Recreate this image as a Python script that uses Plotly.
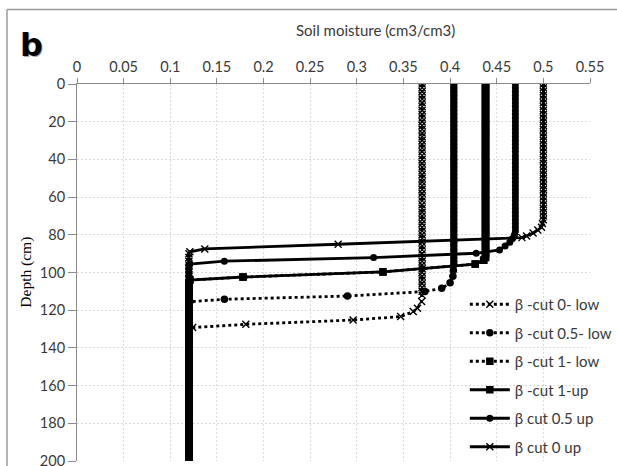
import plotly.graph_objects as go

# ---------------- data ----------------
x_tick_vals = [0, 0.05, 0.1, 0.15, 0.2, 0.25, 0.3, 0.35, 0.4, 0.45, 0.5, 0.55]
x_tick_text = ["0", "0.05", "0.1", "0.15", "0.2", "0.25", "0.3", "0.35", "0.4", "0.45", "0.5", "0.55"]
y_tick_vals = [0, 20, 40, 60, 80, 100, 120, 140, 160, 180, 200]

series_names = ["β -cut 0- low", "β -cut 0.5- low", "β -cut 1- low",
                "β -cut 1-up", "β cut 0.5 up", "β cut 0 up"]

# β-cut 0 low (dotted, x markers)
depth_cut0_low = [0, 2, 4, 6, 8, 10, 12, 14, 16, 18, 20, 22, 24, 26, 28, 30, 32, 34, 36, 38,
                  40, 42, 44, 46, 48, 50, 52, 54, 56, 58, 60, 62, 64, 66, 68, 70, 72, 74, 76, 78,
                  80, 82, 84, 86, 88, 90, 92, 94, 96, 98, 100, 102, 104, 106, 108, 110, 112,
                  115.4, 119, 120.7, 123.4, 125.2, 127.5, 129.2,
                  130, 132, 134, 136, 138, 140, 142, 144, 146, 148, 150, 152, 154, 156, 158, 160,
                  162, 164, 166, 168, 170, 172, 174, 176, 178, 180, 182, 184, 186, 188, 190, 192,
                  194, 196, 198, 200]
theta_cut0_low = [0.37, 0.37, 0.37, 0.37, 0.37, 0.37, 0.37, 0.37, 0.37, 0.37, 0.37, 0.37, 0.37, 0.37,
                  0.37, 0.37, 0.37, 0.37, 0.37, 0.37, 0.37, 0.37, 0.37, 0.37, 0.37, 0.37, 0.37, 0.37,
                  0.37, 0.37, 0.37, 0.37, 0.37, 0.37, 0.37, 0.37, 0.37, 0.37, 0.37, 0.37, 0.37, 0.37,
                  0.37, 0.37, 0.37, 0.37, 0.37, 0.37, 0.37, 0.37, 0.37, 0.37, 0.37, 0.37, 0.37, 0.37,
                  0.37,
                  0.3695, 0.365, 0.3605, 0.347, 0.296, 0.181, 0.124,
                  0.12, 0.12, 0.12, 0.12, 0.12, 0.12, 0.12, 0.12, 0.12, 0.12, 0.12, 0.12, 0.12, 0.12,
                  0.12, 0.12, 0.12, 0.12, 0.12, 0.12, 0.12, 0.12, 0.12, 0.12, 0.12, 0.12, 0.12, 0.12,
                  0.12, 0.12, 0.12, 0.12, 0.12, 0.12, 0.12, 0.12]

# β-cut 0.5 low (dotted, circles)
depth_cut05_low = [0, 2, 4, 6, 8, 10, 12, 14, 16, 18, 20, 22, 24, 26, 28, 30, 32, 34, 36, 38,
                   40, 42, 44, 46, 48, 50, 52, 54, 56, 58, 60, 62, 64, 66, 68, 70, 72, 74, 76, 78,
                   80, 82, 84, 86, 88, 90, 92, 94, 96,
                   99, 102, 105.5, 108.4, 110.1, 112.5, 114.2, 115.5,
                   118, 120, 122, 124, 126, 128, 130, 132, 134, 136, 138, 140, 142, 144, 146, 148,
                   150, 152, 154, 156, 158, 160, 162, 164, 166, 168, 170, 172, 174, 176, 178, 180,
                   182, 184, 186, 188, 190, 192, 194, 196, 198, 200]
theta_cut05_low = [0.404, 0.404, 0.404, 0.404, 0.404, 0.404, 0.404, 0.404, 0.404, 0.404, 0.404, 0.404,
                   0.404, 0.404, 0.404, 0.404, 0.404, 0.404, 0.404, 0.404, 0.404, 0.404, 0.404, 0.404,
                   0.404, 0.404, 0.404, 0.404, 0.404, 0.404, 0.404, 0.404, 0.404, 0.404, 0.404, 0.404,
                   0.404, 0.404, 0.404, 0.404, 0.404, 0.404, 0.404, 0.404, 0.404, 0.404, 0.404, 0.404,
                   0.404,
                   0.4035, 0.403, 0.4, 0.391, 0.373, 0.29, 0.158, 0.121,
                   0.12, 0.12, 0.12, 0.12, 0.12, 0.12, 0.12, 0.12, 0.12, 0.12, 0.12, 0.12, 0.12, 0.12,
                   0.12, 0.12, 0.12, 0.12, 0.12, 0.12, 0.12, 0.12, 0.12, 0.12, 0.12, 0.12, 0.12, 0.12,
                   0.12, 0.12, 0.12, 0.12, 0.12, 0.12, 0.12, 0.12, 0.12, 0.12, 0.12, 0.12, 0.12, 0.12]

# β-cut 1 (low and up bounds coincide; squares)
depth_cut1 = [0, 2, 4, 6, 8, 10, 12, 14, 16, 18, 20, 22, 24, 26, 28, 30, 32, 34, 36, 38,
              40, 42, 44, 46, 48, 50, 52, 54, 56, 58, 60, 62, 64, 66, 68, 70, 72, 74, 76, 78,
              80, 82, 84, 86, 88, 90, 92,
              93.5, 95.5, 99.7, 102.4, 104,
              106, 108, 110, 112, 114, 116, 118, 120, 122, 124, 126, 128, 130, 132, 134, 136,
              138, 140, 142, 144, 146, 148, 150, 152, 154, 156, 158, 160, 162, 164, 166, 168,
              170, 172, 174, 176, 178, 180, 182, 184, 186, 188, 190, 192, 194, 196, 198, 200]
theta_cut1 = [0.438, 0.438, 0.438, 0.438, 0.438, 0.438, 0.438, 0.438, 0.438, 0.438, 0.438, 0.438,
              0.438, 0.438, 0.438, 0.438, 0.438, 0.438, 0.438, 0.438, 0.438, 0.438, 0.438, 0.438,
              0.438, 0.438, 0.438, 0.438, 0.438, 0.438, 0.438, 0.438, 0.438, 0.438, 0.438, 0.438,
              0.438, 0.438, 0.438, 0.438, 0.438, 0.438, 0.438, 0.438, 0.438, 0.438, 0.438,
              0.436, 0.427, 0.328, 0.178, 0.121,
              0.12, 0.12, 0.12, 0.12, 0.12, 0.12, 0.12, 0.12, 0.12, 0.12, 0.12, 0.12, 0.12, 0.12,
              0.12, 0.12, 0.12, 0.12, 0.12, 0.12, 0.12, 0.12, 0.12, 0.12, 0.12, 0.12, 0.12, 0.12,
              0.12, 0.12, 0.12, 0.12, 0.12, 0.12, 0.12, 0.12, 0.12, 0.12, 0.12, 0.12, 0.12, 0.12,
              0.12, 0.12, 0.12, 0.12, 0.12, 0.12]

# β-cut 0.5 up (solid, circles)
depth_cut05_up = [0, 2, 4, 6, 8, 10, 12, 14, 16, 18, 20, 22, 24, 26, 28, 30, 32, 34, 36, 38,
                  40, 42, 44, 46, 48, 50, 52, 54, 56, 58, 60, 62, 64, 66, 68, 70, 72, 74, 76, 78,
                  80, 82, 84, 86, 88, 89.8, 92.1, 94, 95.5,
                  96, 98, 100, 102, 104, 106, 108, 110, 112, 114, 116, 118, 120, 122, 124, 126,
                  128, 130, 132, 134, 136, 138, 140, 142, 144, 146, 148, 150, 152, 154, 156, 158,
                  160, 162, 164, 166, 168, 170, 172, 174, 176, 178, 180, 182, 184, 186, 188, 190,
                  192, 194, 196, 198, 200]
theta_cut05_up = [0.47, 0.47, 0.47, 0.47, 0.47, 0.47, 0.47, 0.47, 0.47, 0.47, 0.47, 0.47, 0.47, 0.47,
                  0.47, 0.47, 0.47, 0.47, 0.47, 0.47, 0.47, 0.47, 0.47, 0.47, 0.47, 0.47, 0.47, 0.47,
                  0.47, 0.47, 0.47, 0.47, 0.47, 0.47, 0.47, 0.47, 0.47, 0.47, 0.47, 0.47,
                  0.469, 0.467, 0.464, 0.459, 0.453, 0.428, 0.318, 0.158, 0.121,
                  0.12, 0.12, 0.12, 0.12, 0.12, 0.12, 0.12, 0.12, 0.12, 0.12, 0.12, 0.12, 0.12, 0.12,
                  0.12, 0.12, 0.12, 0.12, 0.12, 0.12, 0.12, 0.12, 0.12, 0.12, 0.12, 0.12, 0.12, 0.12,
                  0.12, 0.12, 0.12, 0.12, 0.12, 0.12, 0.12, 0.12, 0.12, 0.12, 0.12, 0.12, 0.12, 0.12,
                  0.12, 0.12, 0.12, 0.12, 0.12, 0.12, 0.12, 0.12, 0.12, 0.12, 0.12]

# β-cut 0 up (solid, x markers)
depth_cut0_up = [0, 2, 4, 6, 8, 10, 12, 14, 16, 18, 20, 22, 24, 26, 28, 30, 32, 34, 36, 38,
                 40, 42, 44, 46, 48, 50, 52, 54, 56, 58, 60, 62, 64, 66, 68, 70, 72,
                 74, 76, 77.5, 79, 80.6, 81.5, 85, 87.5, 89,
                 90, 92, 94, 96, 98, 100, 102, 104, 106, 108, 110, 112, 114, 116, 118, 120,
                 122, 124, 126, 128, 130, 132, 134, 136, 138, 140, 142, 144, 146, 148, 150, 152,
                 154, 156, 158, 160, 162, 164, 166, 168, 170, 172, 174, 176, 178, 180, 182, 184,
                 186, 188, 190, 192, 194, 196, 198, 200]
theta_cut0_up = [0.5, 0.5, 0.5, 0.5, 0.5, 0.5, 0.5, 0.5, 0.5, 0.5, 0.5, 0.5, 0.5, 0.5, 0.5, 0.5,
                 0.5, 0.5, 0.5, 0.5, 0.5, 0.5, 0.5, 0.5, 0.5, 0.5, 0.5, 0.5, 0.5, 0.5, 0.5, 0.5,
                 0.5, 0.5, 0.5, 0.5, 0.5,
                 0.499, 0.498, 0.494, 0.489, 0.482, 0.477, 0.28, 0.137, 0.121,
                 0.12, 0.12, 0.12, 0.12, 0.12, 0.12, 0.12, 0.12, 0.12, 0.12, 0.12, 0.12, 0.12, 0.12,
                 0.12, 0.12, 0.12, 0.12, 0.12, 0.12, 0.12, 0.12, 0.12, 0.12, 0.12, 0.12, 0.12, 0.12,
                 0.12, 0.12, 0.12, 0.12, 0.12, 0.12, 0.12, 0.12, 0.12, 0.12, 0.12, 0.12, 0.12, 0.12,
                 0.12, 0.12, 0.12, 0.12, 0.12, 0.12, 0.12, 0.12, 0.12, 0.12, 0.12, 0.12, 0.12, 0.12]

series_depths = [depth_cut0_low, depth_cut05_low, depth_cut1, depth_cut1, depth_cut05_up, depth_cut0_up]
series_thetas = [theta_cut0_low, theta_cut05_low, theta_cut1, theta_cut1, theta_cut05_up, theta_cut0_up]

# ---------------- styles ----------------
series_dash = ["dot", "dot", "dot", "solid", "solid", "solid"]
series_symbol = ["x-thin", "circle", "square", "square", "circle", "x-thin"]
series_size = [7, 7.5, 7.5, 7.5, 7, 7]

FONT = "Lato, 'Open Sans', sans-serif"
TXT = "#3a3a3a"

fig = go.Figure()
for i, name in enumerate(series_names):
    marker = dict(symbol=series_symbol[i], size=series_size[i], color="black")
    if series_symbol[i] == "x-thin":
        marker["line"] = dict(width=1.4, color="black")
    else:
        marker["line"] = dict(width=0)
    fig.add_trace(go.Scatter(
        x=series_thetas[i], y=series_depths[i], name=name, mode="lines+markers",
        legendgroup="g%d" % i,
        line=dict(color="black", width=2.8, dash=series_dash[i]),
        marker=marker,
    ))

fig.update_layout(
    width=617, height=466,
    margin=dict(l=77, r=27, t=84, b=5, autoexpand=False),
    paper_bgcolor="white", plot_bgcolor="white",
    showlegend=True,
    legend=dict(x=0.756, y=0.4589, xanchor="left", yanchor="top",
                bgcolor="rgba(0,0,0,0)", font=dict(family=FONT, size=15, color=TXT),
                traceorder="grouped", tracegroupgap=6, itemwidth=40),
    xaxis=dict(side="top", range=[0, 0.55], tickvals=x_tick_vals, ticktext=x_tick_text,
               ticks="outside", ticklen=5, tickcolor="#8c8c8c", automargin=False,
               ticklabeloverflow="allow",
               showline=True, linecolor="#8c8c8c", linewidth=1,
               showgrid=True, gridcolor="#d9d9d9", griddash="2px,2px", gridwidth=1,
               zeroline=False, tickfont=dict(family=FONT, size=14.5, color=TXT)),
    yaxis=dict(range=[200, 0], tickvals=y_tick_vals, automargin=False,
               ticklabeloverflow="allow",
               ticks="outside", ticklen=8, tickcolor="#8c8c8c",
               showline=True, linecolor="#8c8c8c", linewidth=1,
               showgrid=True, gridcolor="#d9d9d9", griddash="2px,2px", gridwidth=1,
               zeroline=False, tickfont=dict(family=FONT, size=14.5, color=TXT)),
    annotations=[
        dict(text="Soil moisture (cm3/cm3)", xref="paper", yref="paper",
             x=0.581, y=1.143, xanchor="center", yanchor="middle", showarrow=False,
             font=dict(family=FONT, size=15, color=TXT)),
        dict(text="Depth (cm)", xref="paper", yref="paper", textangle=-90,
             x=-0.101, y=0.5, xanchor="center", yanchor="middle", showarrow=False,
             font=dict(family="Liberation Serif, serif", size=15.5, color="black")),
        dict(text="<b>b</b>", xref="paper", yref="paper",
             x=-0.0875, y=1.1, xanchor="center", yanchor="middle", showarrow=False,
             font=dict(family="DejaVu Sans, sans-serif", size=32, color="rgba(0,0,0,0.35)")),
        dict(text="<b>b</b>", xref="paper", yref="paper",
             x=-0.0895, y=1.103, xanchor="center", yanchor="middle", showarrow=False,
             font=dict(family="DejaVu Sans, sans-serif", size=32, color="black")),
    ],
    shapes=[
        dict(type="line", xref="paper", yref="paper", x0=-0.1365, x1=-0.1365, y0=-0.2, y1=1.1976,
             line=dict(color="#9a9a9a", width=1.5), layer="below"),
        dict(type="line", xref="paper", yref="paper", x0=-0.1365, x1=1.3, y0=1.1976, y1=1.1976,
             line=dict(color="#9a9a9a", width=1.5), layer="below"),
    ],
)

fig.write_html("out.html")
